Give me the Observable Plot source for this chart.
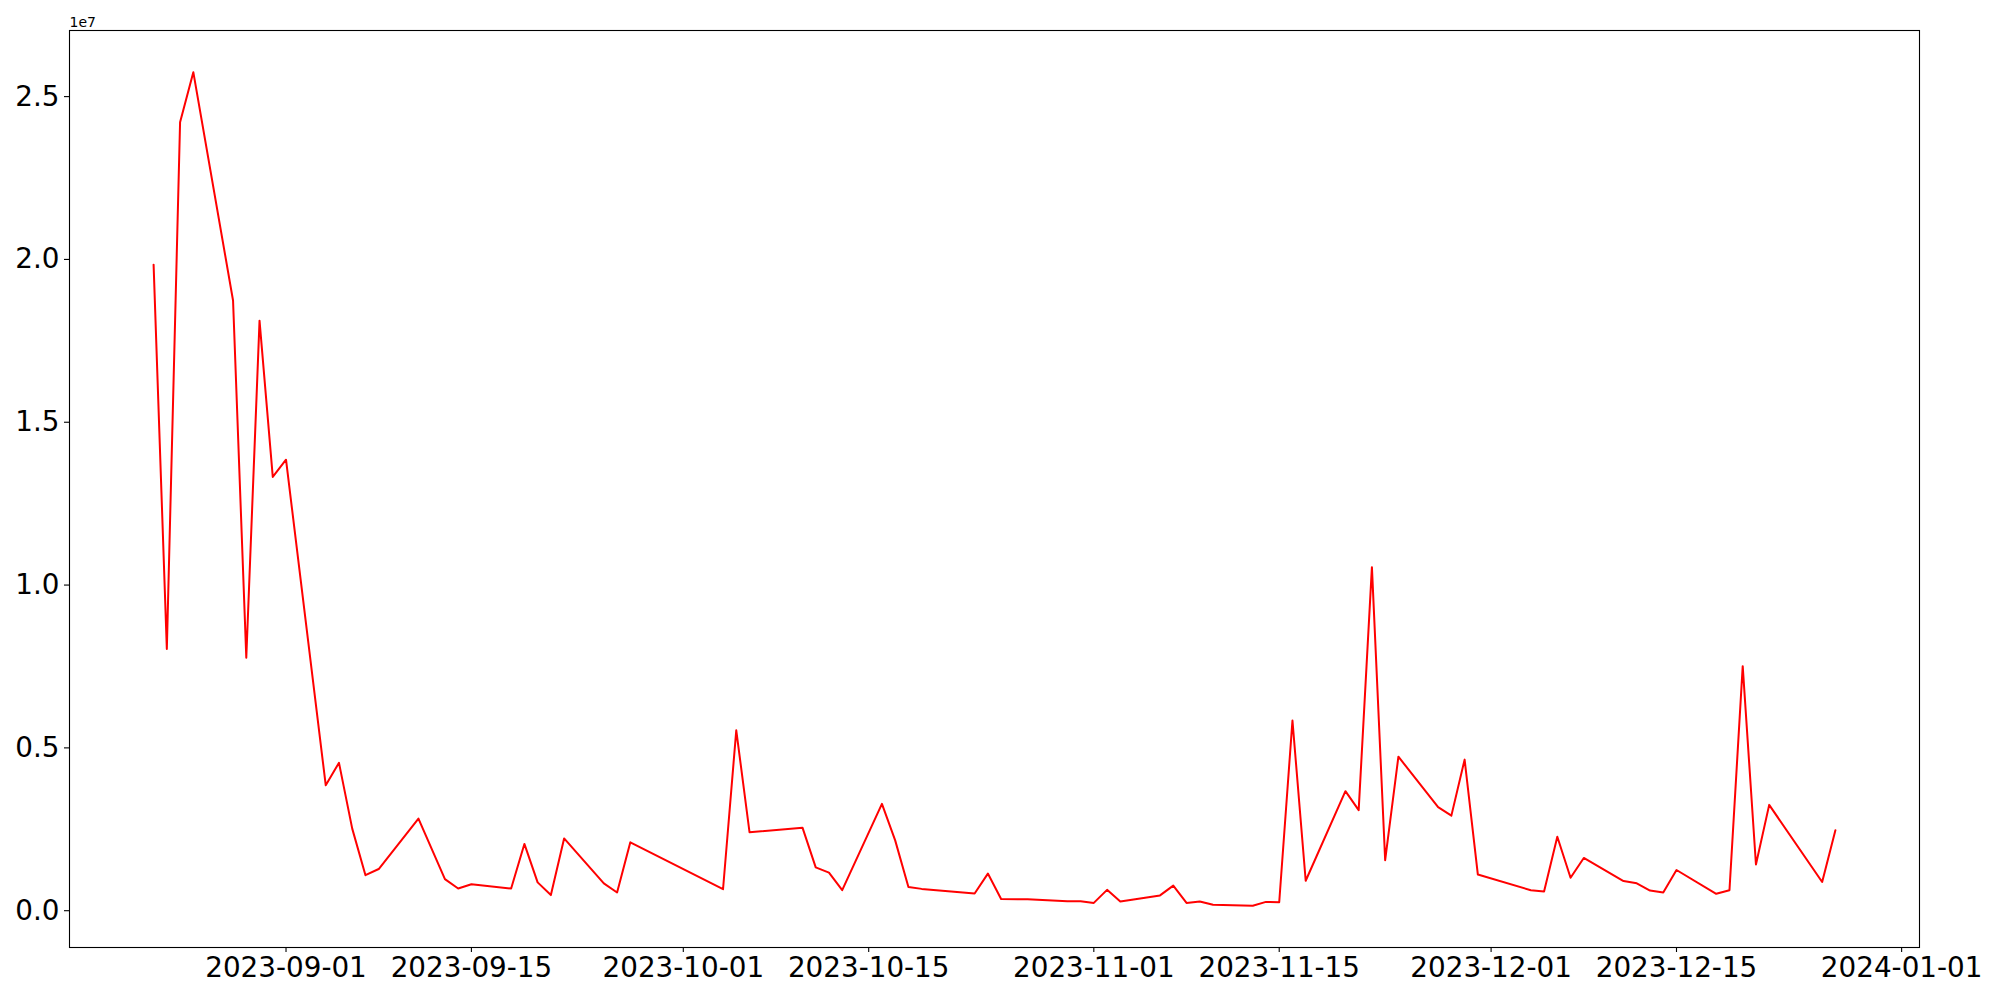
<!DOCTYPE html>
<html>
<head>
<meta charset="utf-8">
<script src="https://cdn.jsdelivr.net/npm/d3@7"></script>
<script src="https://cdn.jsdelivr.net/npm/@observablehq/plot@0.6"></script>
<style>
  html, body { margin: 0; padding: 0; background: #fff; }
  #chart { width: 2000px; height: 1000px; }
</style>
</head>
<body>
<div id="chart"></div>
<script>
const dates = [
  "2023-08-22","2023-08-23","2023-08-24","2023-08-25","2023-08-28","2023-08-29","2023-08-30","2023-08-31",
  "2023-09-01","2023-09-04","2023-09-05","2023-09-06","2023-09-07","2023-09-08","2023-09-11","2023-09-13",
  "2023-09-14","2023-09-15","2023-09-18","2023-09-19","2023-09-20","2023-09-21","2023-09-22","2023-09-25",
  "2023-09-26","2023-09-27","2023-10-04","2023-10-05","2023-10-06","2023-10-10","2023-10-11","2023-10-12",
  "2023-10-13","2023-10-16","2023-10-17","2023-10-18","2023-10-19","2023-10-23","2023-10-24","2023-10-25",
  "2023-10-27","2023-10-30","2023-10-31","2023-11-01","2023-11-02","2023-11-03","2023-11-06","2023-11-07",
  "2023-11-08","2023-11-09","2023-11-10","2023-11-13","2023-11-14","2023-11-15","2023-11-16","2023-11-17",
  "2023-11-20","2023-11-21","2023-11-22","2023-11-23","2023-11-24","2023-11-27","2023-11-28","2023-11-29",
  "2023-11-30","2023-12-04","2023-12-05","2023-12-06","2023-12-07","2023-12-08","2023-12-11","2023-12-12",
  "2023-12-13","2023-12-14","2023-12-15","2023-12-18","2023-12-19","2023-12-20","2023-12-21","2023-12-22",
  "2023-12-26","2023-12-27"
];
const values = [
  19840000, 8040000, 24210000, 25750000, 18740000, 7770000, 18120000, 13320000,
  13850000, 3850000, 4540000, 2520000, 1090000, 1280000, 2830000, 970000,
  680000, 810000, 680000, 2050000, 870000, 480000, 2220000, 840000,
  560000, 2100000, 660000, 5540000, 2410000, 2550000, 1330000, 1170000,
  630000, 3280000, 2160000, 730000, 670000, 530000, 1140000, 360000,
  350000, 290000, 290000, 240000, 640000, 280000, 470000, 770000,
  240000, 280000, 180000, 150000, 270000, 260000, 5840000, 920000,
  3670000, 3090000, 10550000, 1550000, 4730000, 3180000, 2920000, 4640000,
  1110000, 630000, 590000, 2270000, 1010000, 1620000, 910000, 840000,
  620000, 560000, 1250000, 520000, 630000, 7510000, 1420000, 3250000,
  880000, 2470000
];
const xTickLabels = ["2023-09-01","2023-09-15","2023-10-01","2023-10-15","2023-11-01","2023-11-15","2023-12-01","2023-12-15","2024-01-01"];
const yTickValues = [0, 5000000, 10000000, 15000000, 20000000, 25000000];
const offsetLabel = "1e7";

const parse = d3.utcParse("%Y-%m-%d");
const data = dates.map((d, i) => ({date: parse(d), value: values[i]}));

// matplotlib-like 5% margins
const [x0, x1] = d3.extent(data, d => d.date);
const xPad = (x1 - x0) * 0.05;
const [y0, y1] = d3.extent(data, d => d.value);
const yPad = (y1 - y0) * 0.05;

const FS = 27.8;
const chart = Plot.plot({
  width: 2000,
  height: 1000,
  marginLeft: 69,
  marginRight: 81,
  marginTop: 30,
  marginBottom: 53,
  style: {background: "#fff", color: "#000", fontFamily: "DejaVu Sans", overflow: "visible"},
  x: {type: "utc", domain: [new Date(+x0 - xPad), new Date(+x1 + xPad)]},
  y: {domain: [y0 - yPad, y1 + yPad]},
  marks: [
    Plot.line(data, {x: "date", y: "value", stroke: "#ff0000", strokeWidth: 2}),
    Plot.frame({stroke: "#000", strokeWidth: 1.1}),
    Plot.axisX({
      ticks: xTickLabels.map(parse),
      tickFormat: d3.utcFormat("%Y-%m-%d"),
      tickSize: 5, tickPadding: 5, fontSize: FS, label: null, strokeWidth: 1.1
    }),
    Plot.axisY({
      ticks: yTickValues,
      tickFormat: d => (d / 1e7).toFixed(1),
      tickSize: 5, tickPadding: 5, fontSize: FS, label: null, strokeWidth: 1.1
    }),
    Plot.text([offsetLabel], {
      text: d => d, frameAnchor: "top-left", textAnchor: "start",
      lineAnchor: "bottom", dy: -4, fontSize: 14, fill: "#000"
    })
  ]
});
document.getElementById("chart").appendChild(chart);
</script>
</body>
</html>
